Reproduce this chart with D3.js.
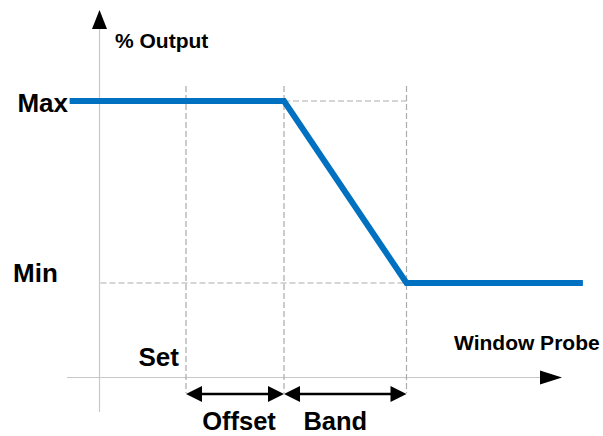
<!DOCTYPE html>
<html>
<head>
<meta charset="utf-8">
<script src="https://cdn.jsdelivr.net/npm/d3@7"></script>
<style>
html,body{margin:0;padding:0;background:#fff;}
svg{display:block;}
text{font-family:"Liberation Sans",Arial,Helvetica,sans-serif;font-weight:bold;fill:#000;}
</style>
</head>
<body>
<svg id="chart" width="603" height="436"></svg>
<script>
// ---- data ----
const setPoint = 0;          // set point position (probe units)
const offset = 4;            // offset width
const band = 5;              // band width
const outputMax = 100;       // % output at Max
const outputMin = 0;         // % output at Min
const curveX = [-4.75, setPoint + offset, setPoint + offset + band, 16.2];
const curveY = [outputMax, outputMax, outputMin, outputMin];
const yLabels = ["Max", "Min"];
const yLabelValues = [outputMax, outputMin];
const spanLabels = ["Offset", "Band"];
const spanStarts = [setPoint, setPoint + offset];
const spanEnds = [setPoint + offset, setPoint + offset + band];

// ---- layout ----
const svg = d3.select("#chart");
const x = d3.scaleLinear().domain([0, 10]).range([186, 431]);
const y = d3.scaleLinear().domain([0, 100]).range([283, 101]);

const axisX = 99.5;      // y-axis pixel x
const axisY = 377.5;     // x-axis pixel y
const axisColor = "#c8c8c8";
const dashColor = "#ababab";
const blue = "#0070C0";

// axes lines
svg.append("line").attr("x1", axisX).attr("x2", axisX).attr("y1", 28).attr("y2", 412)
  .attr("stroke", axisColor).attr("stroke-width", 1.2);
svg.append("line").attr("x1", 67).attr("x2", 542).attr("y1", axisY).attr("y2", axisY)
  .attr("stroke", axisColor).attr("stroke-width", 1.2);
// arrow heads
svg.append("path").attr("d", `M${axisX},10 L${axisX-7.5},29 L${axisX+7.5},29 Z`).attr("fill", "#000");
svg.append("path").attr("d", `M562,${axisY} L540,${axisY-7} L540,${axisY+7} Z`).attr("fill", "#000");

// dashed guides
const vx = [setPoint, setPoint + offset, setPoint + offset + band];
svg.selectAll("line.vguide").data(vx).enter().append("line")
  .attr("class", "vguide")
  .attr("x1", d => x(d)).attr("x2", d => x(d))
  .attr("y1", 86).attr("y2", 393)
  .attr("stroke", dashColor).attr("stroke-width", 1.2).attr("stroke-dasharray", "6,3");
svg.append("line")
  .attr("x1", x(setPoint + offset)).attr("x2", x(setPoint + offset + band))
  .attr("y1", y(outputMax)).attr("y2", y(outputMax))
  .attr("stroke", dashColor).attr("stroke-width", 1.2).attr("stroke-dasharray", "6,3");
svg.append("line")
  .attr("x1", axisX + 1).attr("x2", x(setPoint + offset + band))
  .attr("y1", y(outputMin)).attr("y2", y(outputMin))
  .attr("stroke", dashColor).attr("stroke-width", 1.2).attr("stroke-dasharray", "6,3");

// curve
const pts = curveX.map((d, i) => [x(d), y(curveY[i])]);
svg.append("path").datum(pts)
  .attr("d", d3.line())
  .attr("fill", "none").attr("stroke", blue).attr("stroke-width", 6)
  .attr("stroke-linejoin", "miter");

// double arrows
const arrY = 394;
spanStarts.forEach((s, i) => {
  const a = x(s), b = x(spanEnds[i]);
  svg.append("line").attr("x1", a + 10).attr("x2", b - 10).attr("y1", arrY).attr("y2", arrY)
    .attr("stroke", "#000").attr("stroke-width", 2.5);
  svg.append("path").attr("d", `M${a},${arrY} L${a+16},${arrY-8} L${a+16},${arrY+8} Z`).attr("fill", "#000");
  svg.append("path").attr("d", `M${b},${arrY} L${b-16},${arrY-8} L${b-16},${arrY+8} Z`).attr("fill", "#000");
});

// labels
svg.append("text").attr("x", 115).attr("y", 48).attr("font-size", 21).text("% Output");
svg.selectAll("text.ylab").data(yLabels).enter().append("text")
  .attr("class", "ylab")
  .attr("x", (d, i) => i === 0 ? 68 : 13)
  .attr("text-anchor", (d, i) => i === 0 ? "end" : "start")
  .attr("y", (d, i) => y(yLabelValues[i]) + (i === 0 ? 11 : -1))
  .attr("font-size", 26).text(d => d);
svg.append("text").attr("x", x(setPoint) - 7).attr("y", 366).attr("text-anchor", "end")
  .attr("font-size", 26).text("Set");
svg.selectAll("text.span").data(spanLabels).enter().append("text")
  .attr("class", "span")
  .attr("x", (d, i) => (x(spanStarts[i]) + x(spanEnds[i])) / 2 + (i === 0 ? 4 : -10))
  .attr("text-anchor", "middle")
  .attr("y", 430).attr("font-size", 25.5).text(d => d);
svg.append("text").attr("x", 454).attr("y", 350).attr("font-size", 21).text("Window Probe");
</script>
</body>
</html>
